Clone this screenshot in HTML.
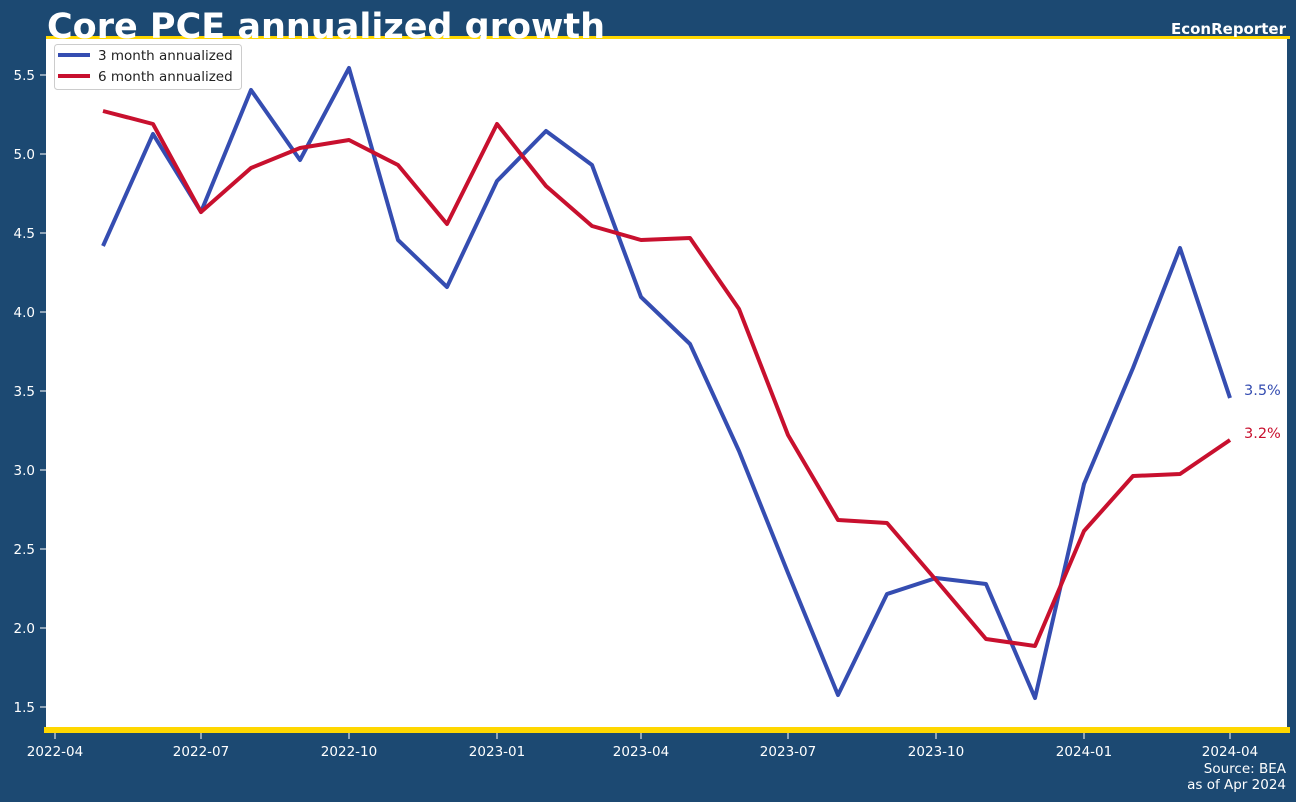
<!DOCTYPE html><html><head><style>body{margin:0;background:#1c4972;}svg{display:block;font-family:"DejaVu Sans","Liberation Sans",sans-serif;}</style></head><body>
<svg width="1296" height="802" xmlns="http://www.w3.org/2000/svg">
<rect width="1296" height="802" fill="#1c4972"/>
<rect x="46" y="37" width="1241" height="694" fill="#fff"/>
<g fill="#fff" font-size="13.5" text-anchor="end">
<text x="35" y="80">5.5</text><text x="35" y="159">5.0</text><text x="35" y="238">4.5</text><text x="35" y="317">4.0</text><text x="35" y="396">3.5</text><text x="35" y="475">3.0</text><text x="35" y="554">2.5</text><text x="35" y="633">2.0</text><text x="35" y="712">1.5</text>
</g>
<g stroke="#fff" stroke-width="1">
<path d="M40 75h6M40 154h6M40 233h6M40 312h6M40 391h6M40 470h6M40 549h6M40 628h6M40 707h6"/>
<path d="M55 733v6M201 733v6M349 733v6M497 733v6M641 733v6M788 733v6M936 733v6M1084 733v6M1230 733v6"/>
</g>
<g fill="#fff" font-size="13.5" text-anchor="middle">
<text x="55" y="756">2022-04</text><text x="201" y="756">2022-07</text><text x="349" y="756">2022-10</text><text x="497" y="756">2023-01</text><text x="641" y="756">2023-04</text><text x="788" y="756">2023-07</text><text x="936" y="756">2023-10</text><text x="1084" y="756">2024-01</text><text x="1230" y="756">2024-04</text>
</g>
<g fill="none" stroke-width="4" stroke-linejoin="round">
<polyline stroke="#354db1" points="103,246 153,134 201,212 251,90 300,160 349,68 398,240 447,287 497,181 546,131 592,165 641,297 690,344 739,451 788,573 838,695 887,594 936,578 986,584 1035,698 1084,484 1133,368 1180,248 1230,398"/>
<polyline stroke="#c8102e" points="103,111 153,124 201,212 251,168 300,148 349,140 398,165 447,224 497,124 546,186 592,226 641,240 690,238 739,309 788,435 838,520 887,523 936,580 986,639 1035,646 1084,531 1133,476 1180,474 1230,440"/>
</g>
<text x="1244" y="395" fill="#354db1" font-size="14.5">3.5%</text>
<text x="1244" y="438" fill="#c8102e" font-size="14.5">3.2%</text>
<rect x="46" y="36" width="1244" height="3" fill="#ffd700"/>
<rect x="44" y="727" width="1246" height="6" fill="#ffd700"/>
<rect x="54.5" y="44.5" width="187" height="45" rx="3" fill="#fff" stroke="#ccc"/>
<path d="M58 55h32" stroke="#354db1" stroke-width="4"/><path d="M58 76h32" stroke="#c8102e" stroke-width="4"/>
<text x="98" y="60" font-size="13.5" fill="#222">3 month annualized</text>
<text x="98" y="81" font-size="13.5" fill="#222">6 month annualized</text>
<text x="47" y="38" font-size="35" font-weight="bold" fill="#fff">Core PCE annualized growth</text>
<text x="1286" y="34" font-size="15" font-weight="bold" fill="#fff" text-anchor="end">EconReporter</text>
<text x="1286" y="773" font-size="13.5" fill="#fff" text-anchor="end">Source: BEA</text>
<text x="1286" y="789" font-size="13.5" fill="#fff" text-anchor="end">as of Apr 2024</text>
</svg></body></html>
